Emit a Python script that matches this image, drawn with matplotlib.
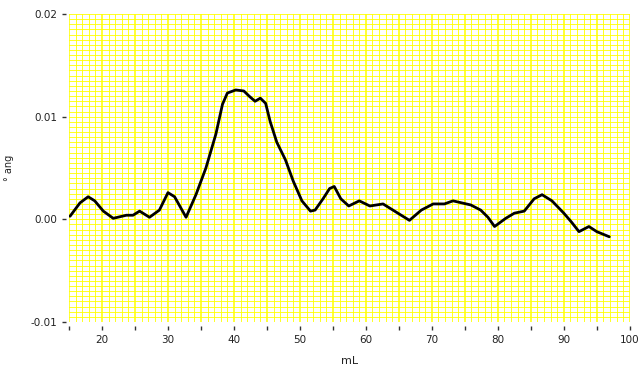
import numpy as np
import matplotlib
matplotlib.use("Agg")
import matplotlib.pyplot as plt
from matplotlib.ticker import MultipleLocator, FormatStrFormatter

# trace (mL, degrees)
volume = [15.15, 16.66, 17.9, 18.9, 20.2, 21.7, 23.7, 24.7, 25.7, 27.2, 28.7, 30.0, 31.0,
          32.74, 34.24, 35.75, 37.26, 38.26, 39.0, 40.27, 41.5, 42.3, 43.2, 44.0, 44.8,
          45.5, 46.5, 47.8, 49.0, 50.3, 51.6, 52.3, 53.5, 54.5, 55.2, 56.2, 57.4, 59.0,
          60.6, 62.6, 64.6, 66.6, 68.4, 70.2, 71.9, 73.2, 75.9, 77.4, 78.5, 79.5, 81.2,
          82.5, 84.0, 85.5, 86.7, 88.2, 90.0, 91.2, 92.3, 93.8, 95.0, 96.9]
angle = [0.0003, 0.0016, 0.0022, 0.0018, 0.0008, 0.0001, 0.0004, 0.0004, 0.0008, 0.0002,
         0.0009, 0.0026, 0.0022, 0.0002, 0.0024, 0.0050, 0.0083, 0.0112, 0.0123, 0.0126,
         0.0125, 0.0120, 0.0115, 0.0118, 0.0113, 0.0095, 0.0075, 0.0058, 0.0037, 0.0018,
         0.0008, 0.0009, 0.0020, 0.0030, 0.0032, 0.0020, 0.0013, 0.0018, 0.0013, 0.0015,
         0.0007, -0.0001, 0.0009, 0.0015, 0.0015, 0.0018, 0.0014, 0.0009, 0.0002, -0.0007,
         0.0001, 0.0006, 0.0008, 0.0020, 0.0024, 0.0018, 0.0006, -0.0003, -0.0012, -0.0007,
         -0.0012, -0.0017]

fig = plt.figure(figsize=(6.39, 3.75), dpi=100)
ax = fig.add_axes([0.108, 0.1413, 0.8776, 0.8214])

ax.set_xlim(15, 100)
ax.set_ylim(-0.01, 0.02)

ax.xaxis.set_major_locator(MultipleLocator(10))
ax.xaxis.set_minor_locator(MultipleLocator(5))
ax.yaxis.set_major_locator(MultipleLocator(0.01))
ax.yaxis.set_major_formatter(FormatStrFormatter('%.2f'))

# yellow graph-paper grid
for xv in np.arange(15, 100.5, 1):
    ax.axvline(xv, color='#ffff00', lw=1.1 if xv % 5 == 0 else 0.6, zorder=0)
for yv in np.arange(-0.01, 0.02001, 0.0005):
    ax.axhline(yv, color='#ffff00', lw=0.6, zorder=0)

ax.plot(volume, angle, color='black', lw=2, solid_joinstyle='round',
        solid_capstyle='round', zorder=3)

for s in ax.spines.values():
    s.set_visible(False)
ax.spines['bottom'].set_position(('outward', 3))
ax.spines['left'].set_position(('outward', 2))

ax.tick_params(axis='both', which='both', direction='out', length=3, width=1,
               color='#333333', labelsize=7.5, labelcolor='#222222')
ax.tick_params(axis='x', which='major', pad=3)

ax.set_xlabel('mL', fontsize=8, color='#222222', labelpad=8)
ax.set_ylabel('° ang', fontsize=7, color='#222222', labelpad=12)

fig.savefig('out.png', dpi=100)
